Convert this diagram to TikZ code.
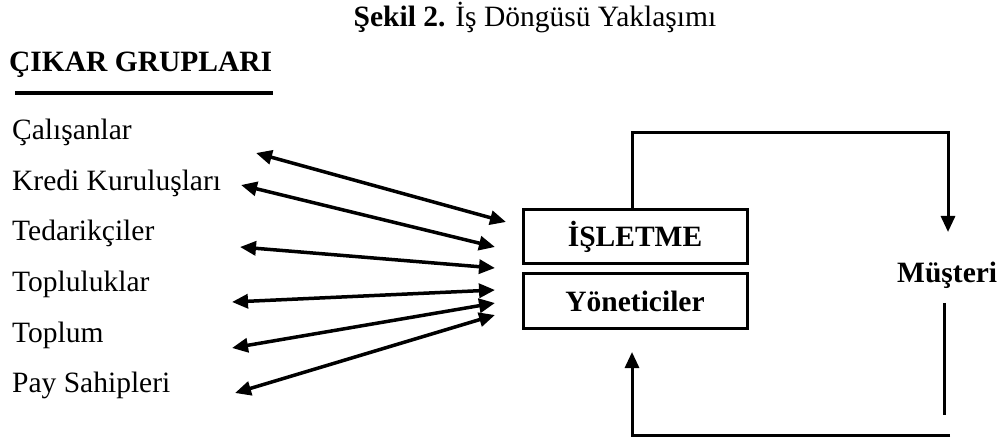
\documentclass[tikz,border=0pt]{standalone}
\usepackage{fontspec}
\setmainfont{Liberation Serif}
\usetikzlibrary{arrows.meta}
\tikzset{
  lbl/.style={anchor=base west, inner sep=0pt, font=\fontsize{29.5}{32}\selectfont},
  boldlbl/.style={lbl, font=\fontsize{29.5}{32}\selectfont\bfseries},
  box/.style={draw, line width=3pt, minimum width=224pt, minimum height=54pt, inner sep=0pt,
              font=\fontsize{29.5}{32}\selectfont\bfseries},
  link/.style={line width=3.5pt, {Triangle[length=16pt,width=14pt]}-{Triangle[length=16pt,width=14pt]}},
  flow/.style={line width=3pt},
  flowarrow/.style={flow, -{Triangle[length=16pt,width=14pt]}}
}
\begin{document}
\begin{tikzpicture}[x=1pt,y=-1pt]
\useasboundingbox (0,0) rectangle (1003,443);

% heading
\node[anchor=base, inner sep=0pt, font=\fontsize{29.5}{32}\selectfont] (title) at (535,27)
  {\textbf{Şekil 2.} İş Döngüsü Yaklaşımı};
\node[boldlbl] (groups) at (9,72) {ÇIKAR GRUPLARI};
\draw[line width=4pt] (15,93) -- (273,93);

% stakeholder list
\node[lbl] (g1) at (12,140) {Çalışanlar};
\node[lbl] (g2) at (12,191) {Kredi Kuruluşları};
\node[lbl] (g3) at (12,241) {Tedarikçiler};
\node[lbl] (g4) at (12,292) {Topluluklar};
\node[lbl] (g5) at (12,342) {Toplum};
\node[lbl] (g6) at (12,392) {Pay Sahipleri};

% firm and managers
\node[box] (firm) at (635,236.5) {İŞLETME};
\node[box] (mgr) at (635,301) {Yöneticiler};

% customer
\node[boldlbl] (cust) at (897,283) {Müşteri};

% two-way links between stakeholders and the firm
\coordinate (l1) at (256,153); \coordinate (r1) at (506,222);
\coordinate (l2) at (241,185); \coordinate (r2) at (495,247);
\coordinate (l3) at (240,247); \coordinate (r3) at (495,268);
\coordinate (l4) at (232,302); \coordinate (r4) at (495,290);
\coordinate (l5) at (232,348); \coordinate (r5) at (495,303);
\coordinate (l6) at (235,393); \coordinate (r6) at (495,315);
\foreach \i in {1,...,6} \draw[link] (l\i) -- (r\i);

% business cycle loop
\coordinate (custin) at (948,232);
\draw[flowarrow] (firm.north -| 632,0) -- (632,133) -- (948,133) -- (custin);
\coordinate (custout) at (944,303);
\coordinate (custend) at (944,415);
\draw[flow] (custout) -- (custend);
\coordinate (mgrin) at (632,352);
\draw[flowarrow] (950,435) -- (632,435) -- (mgrin);
\end{tikzpicture}
\end{document}
